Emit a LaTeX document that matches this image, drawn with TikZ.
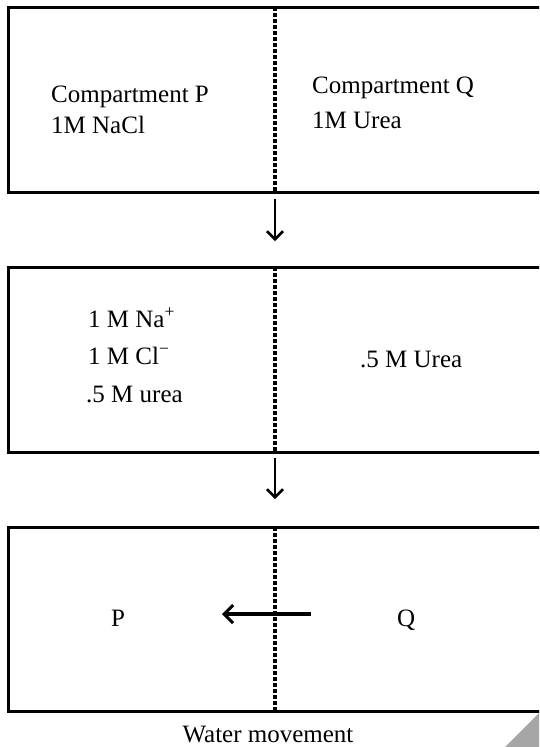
\documentclass[tikz,border=0pt]{standalone}
\usepackage{fontspec}
\setmainfont{Liberation Serif}
\usetikzlibrary{arrows.meta}
\begin{document}
\begin{tikzpicture}[x=1pt,y=-1pt,
  panel/.style={draw=black,line width=3pt,rectangle,anchor=north west,inner sep=0pt,outer sep=0pt,
    minimum width=560pt,minimum height=#1},
  membrane/.style={line width=3.5pt,dash pattern=on 4pt off 2pt},
  label/.style={font=\fontsize{25}{30}\selectfont,anchor=base west,inner sep=0pt},
  flow/.style={line width=2.5pt,-{Straight Barb[length=8pt,width=16pt,line width=2.5pt]}},
  water/.style={line width=3.2pt,-{Straight Barb[length=9pt,width=18pt,line width=3pt]}}]
  \useasboundingbox (0,0) rectangle (539,747);
  \clip (0,0) rectangle (539,747);
  \fill[white] (0,0) rectangle (539,747);

  % three stages of the two-compartment vessel
  \node[panel=185pt] (b1) at (8,7) {};
  \node[panel=185pt] (b2) at (8,267) {};
  \node[panel=184pt] (b3) at (8,527) {};

  % semi-permeable membranes
  \coordinate (m1t) at (275,7);   \coordinate (m1b) at (275,192);
  \coordinate (m2t) at (275,267); \coordinate (m2b) at (275,452);
  \coordinate (m3t) at (275,527); \coordinate (m3b) at (275,711);
  \draw[membrane] (m1t) -- (m1b);
  \draw[membrane] (m2t) -- (m2b);
  \draw[membrane] (m3t) -- (m3b);

  % stage arrows
  \coordinate (a1s) at (275,199); \coordinate (a1e) at (275,241);
  \coordinate (a2s) at (275,458); \coordinate (a2e) at (275,499);
  \draw[flow] (a1s) -- (a1e);
  \draw[flow] (a2s) -- (a2e);

  % initial state
  \node[label] (p1a) at (51,102) {Compartment P};
  \node[label] (p1b) at (51,133) {1M NaCl};
  \node[label] (q1a) at (312,93) {Compartment Q};
  \node[label] (q1b) at (312,128) {1M Urea};

  % after urea diffusion
  \node[label] (p2a) at (88,327) {1 M Na\textsuperscript{+}};
  \node[label] (p2b) at (88,364) {1 M Cl\textsuperscript{−}};
  \node[label] (p2c) at (86,402) {.5 M urea};
  \node[label] (q2) at (360,367) {.5 M Urea};

  % water movement
  \node[label] (p3) at (111,626) {P};
  \node[label] (q3) at (397,626) {Q};
  \coordinate (ws) at (311,614); \coordinate (we) at (222,614);
  \draw[water] (ws) -- (we);
  \node[label,anchor=base] (cap) at (268,742) {Water movement};

  % folded page corner
  \fill[black!35] (505,747) -- (539,713) -- (539,747) -- cycle;
\end{tikzpicture}
\end{document}
